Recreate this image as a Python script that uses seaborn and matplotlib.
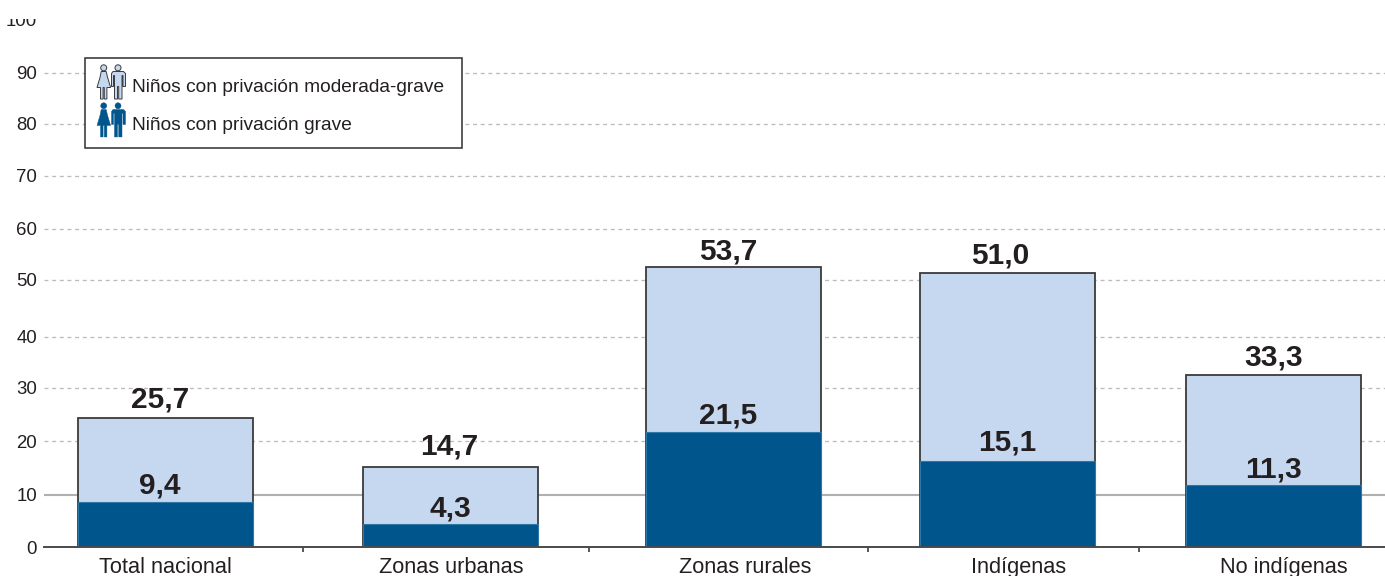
import matplotlib
matplotlib.use("Agg")
import matplotlib.pyplot as plt
import seaborn as sns
from matplotlib.legend_handler import HandlerBase
from matplotlib.patches import Patch, PathPatch, Rectangle
from matplotlib.path import Path
from matplotlib.transforms import Bbox, Affine2D

# data
categories = ["Total nacional", "Zonas urbanas", "Zonas rurales", "Indígenas", "No indígenas"]
drawn_moderate_grave = [24.5, 15.2, 53.2, 52.0, 32.7]
drawn_grave = [8.5, 4.4, 21.8, 16.3, 11.8]
printed_moderate_grave = ["25,7", "14,7", "53,7", "51,0", "33,3"]
printed_grave = ["9,4", "4,3", "21,5", "15,1", "11,3"]
series_names = ["Niños con privación moderada-grave", "Niños con privación grave"]
y_tick_labels = ["0", "10", "20", "30", "40", "50", "60", "70", "80", "90", "100"]

# layout (the source artwork is hand placed, so slots are slightly uneven)
bar_slots = [0, 1.029, 2.0505, 3.0397, 4]
category_label_slots = [0, 1.03, 2.092, 3.081, 4.037]
separator_slots = [0.4964, 1.529, 2.536, 3.514]
top_label_slots = [-0.02, 1.025, 2.03, 3.015, 4]
inner_label_slots = [-0.02, 1.03, 2.03, 3.04, 4]
top_label_y = [27.9, 19.0, 56.0, 55.3, 35.9]
inner_label_y = [11.6, 7.4, 25.0, 19.9, 14.7]
y_grid_positions = [0, 9.9, 20.1, 30.2, 39.9, 50.7, 60.4, 70.4, 80.3, 90, 100]

W, H = 1385, 576
LIGHT, DARK, INK = "#C6D8F0", "#00558C", "#231F20"

sns.set_theme(style="white")
plt.rcParams["font.family"] = ["Liberation Sans", "DejaVu Sans"]

fig = plt.figure(figsize=(W / 100, H / 100), dpi=100)
ax = fig.add_axes([44 / W, (H - 547) / H, (W - 44) / W, (547 - 20) / H])

bar_width = 0.632 / 0.9603
sns.barplot(x=bar_slots, y=drawn_moderate_grave, native_scale=True, width=bar_width,
            color=LIGHT, saturation=1, edgecolor="#3a3a3c", linewidth=1.3, ax=ax, zorder=3)
sns.barplot(x=bar_slots, y=drawn_grave, native_scale=True, width=bar_width,
            color=DARK, saturation=1, edgecolor="#2f77a5", linewidth=0.8, ax=ax, zorder=4)

ax.set_xlim(-0.4386, 4.4025)
ax.set_ylim(0, 100)
ax.set_xlabel("")
ax.set_ylabel("")

ax.set_yticks(y_grid_positions, y_tick_labels)
ax.tick_params(axis="y", length=0, pad=5, labelsize=13.4, labelcolor=INK)
ax.set_axisbelow(True)
ax.grid(axis="y", color="#bcbcbc", linestyle=(0, (3, 2.8)), linewidth=0.95)
ax.grid(axis="x", visible=False)
ax.yaxis.get_gridlines()[1].set_linestyle("-")
ax.yaxis.get_gridlines()[1].set_linewidth(1.5)
ax.yaxis.get_gridlines()[1].set_color("#b0b0b0")
ax.yaxis.get_gridlines()[0].set_visible(False)
ax.yaxis.get_gridlines()[-1].set_visible(False)

ax.set_xticks(separator_slots, [""] * 4)
ax.tick_params(axis="x", which="major", length=3.5, width=1.2, color="#3a3a3c", bottom=True)
ax.set_xticks(category_label_slots, categories, minor=True)
ax.tick_params(axis="x", which="minor", length=0, pad=7, labelsize=15.7, labelcolor=INK)

for side in ["top", "right", "left"]:
    ax.spines[side].set_visible(False)
ax.spines["bottom"].set_color("#4a4a4c")
ax.spines["bottom"].set_linewidth(1.4)
ax.spines["bottom"].set_zorder(5)

for slot, y, text in zip(top_label_slots, top_label_y, printed_moderate_grave):
    ax.text(slot, y, text, ha="center", va="center", fontsize=21.5, fontweight="bold",
            color=INK, zorder=6)
for slot, y, text in zip(inner_label_slots, inner_label_y, printed_grave):
    ax.text(slot, y, text, ha="center", va="center", fontsize=21.5, fontweight="bold",
            color=INK, zorder=6)

# the top tick label is cut off by the edge of the source artwork
for label, text in zip(ax.get_yticklabels(), y_tick_labels):
    if text == "100":
        label.set_clip_on(True)
        label.set_clip_box(Bbox([[0, 0], [W, H - 19]]))


def circle(cx, cy, r):
    return Path.circle((cx, cy), r)


def poly(points):
    return Path(points + [points[0]], closed=True)


# people pictogram, drawn in pixels with y upward, 29 x 35 box
def people_path():
    parts = [
        circle(6.7, 31.7, 3.0),
        poly([(4.2, 28), (9.2, 28), (10.6, 22), (13.6, 12), (9.9, 12), (9.9, 0.5), (7.3, 0.5),
              (7.3, 12), (6.1, 12), (6.1, 0.5), (3.5, 0.5), (3.5, 12), (0, 12), (3, 22)]),
        circle(21, 31.7, 3.0),
        poly([(16, 28), (26.5, 28), (28.5, 26), (28.5, 13), (26, 13), (26, 24), (25, 24), (25, 0.5),
              (21.7, 0.5), (21.7, 13), (20.5, 13), (20.5, 0.5), (17.5, 0.5), (17.5, 24), (16.5, 24),
              (16.5, 13), (14.5, 13), (14.5, 26)]),
    ]
    return Path.make_compound_path(*parts)


class PeopleHandler(HandlerBase):
    def create_artists(self, legend, orig_handle, xdescent, ydescent, width, height, fontsize, trans):
        scale = 0.72
        lift = 3.0  # icons sit a little above the text line
        offset = Affine2D().scale(scale).translate(-xdescent, -ydescent + (height - 35 * scale) / 2 + lift)
        patch = PathPatch(people_path(), facecolor=orig_handle.get_facecolor(),
                          edgecolor=orig_handle.get_edgecolor(),
                          linewidth=orig_handle.get_linewidth())
        patch.set_transform(offset + trans)
        return [patch]


ax.add_patch(Rectangle((85 / W, 1 - 148 / H), 377 / W, 90 / H, transform=fig.transFigure,
                       facecolor="white", edgecolor="#2f2f31", linewidth=1.1, zorder=7,
                       clip_on=False))
handles = [Patch(facecolor=LIGHT, edgecolor="#3a3a3c", linewidth=0.7),
           Patch(facecolor=DARK, edgecolor=DARK, linewidth=0.3)]
legend = fig.legend(handles, series_names, handler_map={Patch: PeopleHandler()},
                    loc="upper left", bbox_to_anchor=(97 / W, 1 - 72 / H),
                    bbox_transform=fig.transFigure, frameon=False, fontsize=13.8,
                    borderpad=0, borderaxespad=0, handlelength=1.52, handleheight=1.9,
                    handletextpad=0.32, labelspacing=0.5, labelcolor=INK)
legend.set_zorder(8)

fig.savefig("out.png", dpi=100)
